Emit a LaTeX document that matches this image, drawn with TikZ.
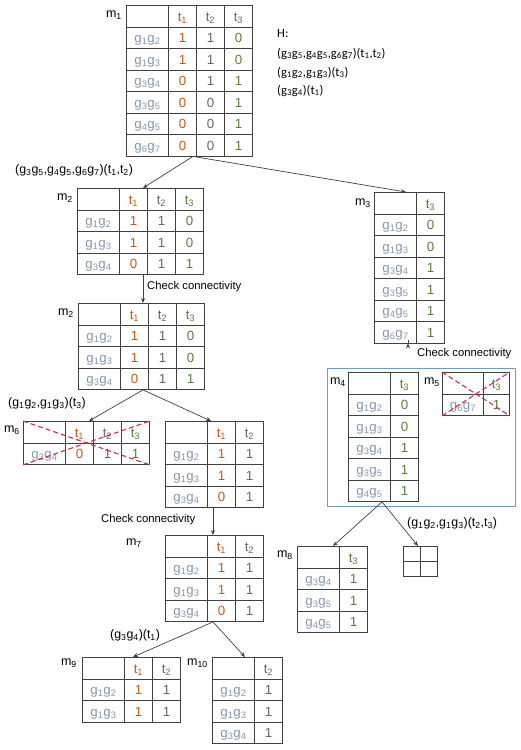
\documentclass[tikz,border=0pt]{standalone}
\usepackage{fontspec}
\setmainfont{Liberation Sans}
\newfontfamily\calib{Carlito}
\usetikzlibrary{matrix,calc,arrows.meta}
\definecolor{torange}{HTML}{C55A11}
\definecolor{tgreen}{HTML}{548235}
\definecolor{tgrey}{HTML}{666666}
\definecolor{gblue}{HTML}{8497B0}
\definecolor{bord}{HTML}{404040}
\definecolor{xred}{HTML}{C8304A}
\definecolor{boxblue}{HTML}{6E9CC4}
\newcommand\gp[2]{g\textsubscript{#1}g\textsubscript{#2}}
\newcommand\tsub[1]{t\textsubscript{#1}}
\newcommand\mlab[1]{m\textsubscript{#1}}
\begin{document}
\begin{tikzpicture}[x=1pt,y=-1pt,
 tbl/.style={matrix of nodes, nodes in empty cells, anchor=north west,
   inner sep=0pt, outer sep=0pt, column sep=-0.9pt, row sep=-0.9pt,
   nodes={draw=bord, line width=0.9pt, minimum width=28pt, minimum height=21.5pt,
     inner sep=0pt, outer sep=0pt, text height=11pt, text depth=1pt,
     font=\fontsize{13.3}{15}\selectfont, text=tgrey},
   column 1/.style={nodes={minimum width=42pt, text=gblue}}},
 oc/.style={column #1/.style={nodes={text=torange}}},
 gc/.style={column #1/.style={nodes={text=tgreen}}},
 tiny/.style={matrix of nodes, nodes in empty cells, anchor=north west,
   inner sep=0pt, outer sep=0pt, column sep=-0.9pt, row sep=-0.9pt,
   nodes={draw=bord, line width=0.9pt, minimum width=17pt, minimum height=15pt,
     inner sep=0pt, outer sep=0pt}},
 mlabel/.style={anchor=east, inner sep=0pt, font=\fontsize{12.5}{14}\selectfont},
 lab/.style={anchor=west, inner sep=0pt, font=\fontsize{11.3}{14}\selectfont},
 plab/.style={anchor=west, inner sep=0pt, font=\fontsize{12.4}{14}\selectfont},
 hlab/.style={anchor=base west, inner sep=0pt, font=\calib\fontsize{12.6}{15}\selectfont},
 arr/.style={draw=bord, line width=0.7pt, -{Stealth[length=5pt,width=4pt]}},
 xline/.style={draw=xred, line width=1.1pt, dashed, dash pattern=on 5pt off 3pt},
 groupbox/.style={draw=boxblue, line width=1pt, anchor=north west, inner sep=0pt,
   minimum width=188pt, minimum height=138pt}]
\useasboundingbox (0,0) rectangle (520,750);

% m1
\matrix[tbl, oc=2, gc=4] (m1) at (126,5) {
 & \tsub1 & \tsub2 & \tsub3 \\
\gp12 & 1 & 1 & 0 \\
\gp13 & 1 & 1 & 0 \\
\gp34 & 0 & 1 & 1 \\
\gp35 & 0 & 0 & 1 \\
\gp45 & 0 & 0 & 1 \\
\gp67 & 0 & 0 & 1 \\
};
\node[mlabel] (l1) at ($(m1.north west)+(-4,10)$) {\mlab1};

% H block
\node[hlab] (h0) at (277,37) {H:};
\node[hlab] (h1) at (277,57) {(\gp35,\gp45,\gp67)(\tsub1,\tsub2)};
\node[hlab] (h2) at (277,76) {(\gp12,\gp13)(\tsub3)};
\node[hlab] (h3) at (277,94) {(\gp34)(\tsub1)};

% m2
\matrix[tbl, oc=2, gc=4] (m2) at (77,188) {
 & \tsub1 & \tsub2 & \tsub3 \\
\gp12 & 1 & 1 & 0 \\
\gp13 & 1 & 1 & 0 \\
\gp34 & 0 & 1 & 1 \\
};
\node[mlabel] (l2) at ($(m2.north west)+(-4,10)$) {\mlab2};

% m3
\matrix[tbl, gc=2] (m3) at (374,192) {
 & \tsub3 \\
\gp12 & 0 \\
\gp13 & 0 \\
\gp34 & 1 \\
\gp35 & 1 \\
\gp45 & 1 \\
\gp67 & 1 \\
};
\node[mlabel] (l3) at ($(m3.north west)+(-3,11)$) {\mlab3};

% m2 (after check)
\matrix[tbl, oc=2, gc=4] (m2b) at (78,303) {
 & \tsub1 & \tsub2 & \tsub3 \\
\gp12 & 1 & 1 & 0 \\
\gp13 & 1 & 1 & 0 \\
\gp34 & 0 & 1 & 1 \\
};
\node[mlabel] (l2b) at ($(m2b.north west)+(-4,10)$) {\mlab2};

% group box with m4, m5
\node[groupbox] (grp) at (327,368) {};
\matrix[tbl, gc=2] (m4) at (348,372) {
 & \tsub3 \\
\gp12 & 0 \\
\gp13 & 0 \\
\gp34 & 1 \\
\gp35 & 1 \\
\gp45 & 1 \\
};
\node[mlabel] (l4) at ($(m4.north west)+(-2,10)$) {\mlab4};
\matrix[tbl, gc=2, column 1/.style={nodes={minimum width=41pt, text=gblue}}, column 2/.style={nodes={minimum width=26pt, text=tgreen}}] (m5) at (442,372) {
 & \tsub3 \\
\gp67 & 1 \\
};
\node[mlabel] (l5) at ($(m5.north west)+(-2,10)$) {\mlab5};
\draw[xline] (m5.north west) -- (m5.south east);
\draw[xline] (m5.south west) -- (m5.north east);

% m6
\matrix[tbl, oc=2, gc=4] (m6) at (23,421) {
 & \tsub1 & \tsub2 & \tsub3 \\
\gp34 & 0 & 1 & 1 \\
};
\node[mlabel] (l6) at ($(m6.north west)+(-3,9)$) {\mlab6};
\draw[xline] (m6.north west) -- (m6.south east);
\draw[xline] (m6.south west) -- (m6.north east);

% unlabeled table before m7
\matrix[tbl, oc=2] (m7a) at (165,421) {
 & \tsub1 & \tsub2 \\
\gp12 & 1 & 1 \\
\gp13 & 1 & 1 \\
\gp34 & 0 & 1 \\
};

% m7
\matrix[tbl, oc=2] (m7) at (165,535) {
 & \tsub1 & \tsub2 \\
\gp12 & 1 & 1 \\
\gp13 & 1 & 1 \\
\gp34 & 0 & 1 \\
};
\node[mlabel] (l7) at ($(m7.north west)+(-23,8)$) {\mlab7};

% m8
\matrix[tbl, gc=2] (m8) at (297,546) {
 & \tsub3 \\
\gp34 & 1 \\
\gp35 & 1 \\
\gp45 & 1 \\
};
\node[mlabel] (l8) at ($(m8.north west)+(-4,9)$) {\mlab8};

% small empty box
\matrix[tiny] (sb) at (403,546) {
 & \\
 & \\
};

% m9
\matrix[tbl, oc=2] (m9) at (82,657) {
 & \tsub1 & \tsub2 \\
\gp12 & 1 & 1 \\
\gp13 & 1 & 1 \\
};
\node[mlabel] (l9) at ($(m9.north west)+(-5,6)$) {\mlab9};

% m10
\matrix[tbl] (m10) at (212,657) {
 & \tsub2 \\
\gp12 & 1 \\
\gp13 & 1 \\
\gp34 & 1 \\
};
\node[mlabel] (l10) at ($(m10.north west)+(-4,6)$) {\mlab{10}};

% connectors
\draw[arr] ($(m1.south west)+(67,0)$) -- ($(m2.north west)+(66,0)$);
\draw[arr] ($(m1.south west)+(67,0)$) -- ($(m3.north west)+(32,0)$);
\draw[arr] ($(m2.south west)+(66,0)$) -- ($(m2b.north west)+(65,0)$);
\draw[arr] ($(m3.south west)+(34,0)$) -- ($(m3.south west)+(34,0)$ |- grp.north);
\draw[arr] ($(m2b.south west)+(65,0)$) -- ($(m6.north west)+(66,0)$);
\draw[arr] ($(m2b.south west)+(65,0)$) -- ($(m7a.north west)+(46,0)$);
\draw[arr] ($(m7a.south west)+(48,0)$) -- ($(m7.north west)+(48,0)$);
\draw[arr] ($(m4.south west)+(34,0)$) -- ($(m8.north west)+(36,0)$);
\draw[arr] ($(m4.south west)+(34,0)$) -- ($(sb.north west)+(15,0)$);
\draw[arr] ($(m7.south west)+(48,0)$) -- ($(m9.north west)+(51,0)$);
\draw[arr] ($(m7.south west)+(48,0)$) -- ($(m10.north west)+(33,0)$);

% connector labels
\node[plab] (c0) at (15,170) {(\gp35,\gp45,\gp67)(\tsub1,\tsub2)};
\node[lab] (c1) at (147,287) {Check connectivity};
\node[lab] (c2) at (417,354) {Check connectivity};
\node[plab] (c3) at (8,403) {(\gp12,\gp13)(\tsub3)};
\node[lab] (c4) at (101,520) {Check connectivity};
\node[plab] (c5) at (110,635) {(\gp34)(\tsub1)};
\node[plab] (c6) at (407,523) {(\gp12,\gp13)(\tsub2,\tsub3)};
\end{tikzpicture}
\end{document}
